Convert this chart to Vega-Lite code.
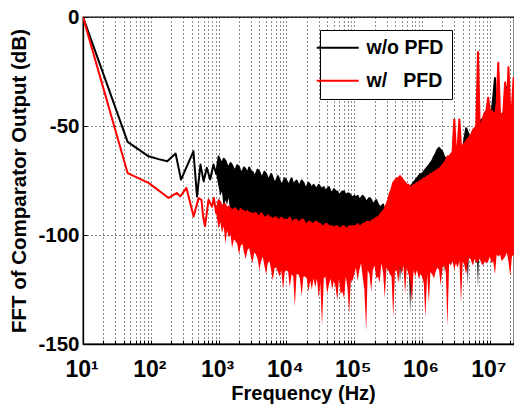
{
"$schema": "https://vega.github.io/schema/vega-lite/v6.json",
"width": 431, "height": 327,
"autosize": {"type": "none"},
"padding": {"left": 83, "top": 17, "right": 0, "bottom": 65},
"background": "white",
"datasets": {
"a": [
{"f":10,"h":0,"l":0},{"f":45.5,"h":-57.3,"l":-57.3},{"f":92.8,"h":-63.9,"l":-63.9},{"f":130,"h":-65.2,"l":-65.2},{"f":175,"h":-66.2,"l":-66.2},{"f":232,"h":-62.6,"l":-62.6},{"f":279,"h":-74.6,"l":-74.6},{"f":425,"h":-61.6,"l":-61.6},{"f":480,"h":-82.3,"l":-82.3},{"f":540,"h":-67.7,"l":-67.7},{"f":600,"h":-75.3,"l":-75.3},{"f":670,"h":-69.2,"l":-69.2},{"f":750,"h":-74.5,"l":-74.5},{"f":840,"h":-67.7,"l":-67.7},{"f":920,"h":-72,"l":-72},
{"f":1000,"h":-64,"l":-78},{"f":1060,"h":-66,"l":-82},{"f":1120,"h":-67,"l":-80},{"f":1190,"h":-65,"l":-88},{"f":1260,"h":-66,"l":-84},{"f":1330,"h":-68,"l":-86},{"f":1410,"h":-69,"l":-83},{"f":1500,"h":-67,"l":-92},{"f":1580,"h":-68,"l":-88},{"f":1680,"h":-70,"l":-90},{"f":1780,"h":-70,"l":-87},{"f":1880,"h":-68,"l":-95},{"f":2000,"h":-69,"l":-91},{"f":2110,"h":-71,"l":-93},{"f":2240,"h":-71,"l":-90},{"f":2370,"h":-69,"l":-97},{"f":2510,"h":-70,"l":-93},{"f":2660,"h":-72,"l":-95},{"f":2820,"h":-69,"l":-94},{"f":2990,"h":-71,"l":-99},{"f":3160,"h":-71,"l":-95},{"f":3350,"h":-73,"l":-97},{"f":3550,"h":-72,"l":-96},{"f":3760,"h":-70,"l":-100},{"f":3980,"h":-71,"l":-96},{"f":4220,"h":-73,"l":-98},{"f":4470,"h":-73,"l":-97},{"f":4730,"h":-71,"l":-101},{"f":5010,"h":-72,"l":-97},{"f":5310,"h":-74,"l":-99},{"f":5620,"h":-74,"l":-98},{"f":5960,"h":-72,"l":-102},{"f":6310,"h":-74,"l":-98},{"f":6680,"h":-76,"l":-100},{"f":7080,"h":-75,"l":-99},{"f":7500,"h":-73,"l":-103},{"f":7940,"h":-75,"l":-99},{"f":8410,"h":-77,"l":-101},{"f":8910,"h":-76,"l":-100},{"f":9440,"h":-74,"l":-101},
{"f":10000,"h":-75,"l":-100},{"f":10600,"h":-77,"l":-102},{"f":11200,"h":-76,"l":-101},{"f":11900,"h":-74,"l":-103},{"f":12600,"h":-77,"l":-99},{"f":13300,"h":-76,"l":-101},{"f":14100,"h":-75,"l":-100},{"f":15000,"h":-77,"l":-105},{"f":15800,"h":-77,"l":-101},{"f":16800,"h":-75,"l":-102},{"f":17800,"h":-76,"l":-100},{"f":18800,"h":-78,"l":-104},{"f":20000,"h":-78,"l":-99},{"f":21100,"h":-76,"l":-102},{"f":22400,"h":-77,"l":-101},{"f":23700,"h":-79,"l":-106},{"f":25100,"h":-77,"l":-102},{"f":26600,"h":-78,"l":-103},{"f":28200,"h":-79,"l":-101},{"f":29900,"h":-77,"l":-107},{"f":31600,"h":-78,"l":-103},{"f":33500,"h":-79,"l":-104},{"f":35500,"h":-78,"l":-102},{"f":37600,"h":-80,"l":-105},{"f":39800,"h":-79,"l":-103},{"f":42200,"h":-78,"l":-108},{"f":44700,"h":-80,"l":-104},{"f":47300,"h":-81,"l":-119},{"f":50100,"h":-79,"l":-105},{"f":53100,"h":-80,"l":-106},{"f":56200,"h":-80,"l":-104},{"f":59600,"h":-82,"l":-109},{"f":63100,"h":-81,"l":-105},{"f":66800,"h":-80,"l":-104},{"f":70800,"h":-80,"l":-106},{"f":75000,"h":-82,"l":-107},{"f":79400,"h":-81,"l":-105},{"f":84100,"h":-81,"l":-110},{"f":89100,"h":-82,"l":-106},{"f":94400,"h":-83,"l":-105},
{"f":100000,"h":-82,"l":-104},{"f":106000,"h":-83,"l":-105},{"f":112000,"h":-82,"l":-103},{"f":119000,"h":-84,"l":-107},{"f":126000,"h":-83,"l":-104},{"f":133000,"h":-82,"l":-102},{"f":141000,"h":-83,"l":-106},{"f":150000,"h":-85,"l":-108},{"f":158000,"h":-84,"l":-104},{"f":168000,"h":-83,"l":-105},{"f":178000,"h":-84,"l":-103},{"f":188000,"h":-86,"l":-105},{"f":200000,"h":-85,"l":-107},{"f":211000,"h":-84,"l":-109},{"f":224000,"h":-86,"l":-105},{"f":237000,"h":-87,"l":-106},{"f":251000,"h":-87,"l":-104},{"f":266000,"h":-86,"l":-107},{"f":282000,"h":-89,"l":-105},{"f":299000,"h":-88,"l":-104},{"f":316000,"h":-88,"l":-106},{"f":335000,"h":-86,"l":-107},{"f":355000,"h":-85,"l":-110},{"f":376000,"h":-84,"l":-127},{"f":398000,"h":-83,"l":-109},{"f":422000,"h":-83,"l":-108},{"f":447000,"h":-82,"l":-106},{"f":473000,"h":-81,"l":-122},{"f":501000,"h":-81,"l":-107},{"f":531000,"h":-80,"l":-110},{"f":562000,"h":-80,"l":-106},{"f":596000,"h":-79,"l":-107},{"f":631000,"h":-79,"l":-108},{"f":668000,"h":-78,"l":-136},{"f":708000,"h":-77,"l":-107},{"f":750000,"h":-76,"l":-108},{"f":794000,"h":-75,"l":-105},{"f":841000,"h":-74,"l":-106},{"f":891000,"h":-73,"l":-105},{"f":944000,"h":-72,"l":-107},
{"f":1000000,"h":-72,"l":-104},{"f":1060000,"h":-71,"l":-103},{"f":1120000,"h":-70,"l":-101},{"f":1190000,"h":-69,"l":-104},{"f":1260000,"h":-68,"l":-106},{"f":1330000,"h":-67,"l":-103},{"f":1410000,"h":-66,"l":-102},{"f":1500000,"h":-64,"l":-104},{"f":1580000,"h":-63,"l":-105},{"f":1680000,"h":-61,"l":-102},{"f":1780000,"h":-60,"l":-100},{"f":1880000,"h":-61,"l":-103},{"f":2000000,"h":-62,"l":-103},{"f":2110000,"h":-64,"l":-118},{"f":2240000,"h":-65,"l":-101},{"f":2370000,"h":-66,"l":-99},{"f":2510000,"h":-67,"l":-104},{"f":2660000,"h":-66,"l":-102},{"f":2820000,"h":-66,"l":-101},{"f":2990000,"h":-65,"l":-100},{"f":3160000,"h":-64,"l":-98},{"f":3350000,"h":-64,"l":-101},{"f":3550000,"h":-63,"l":-103},{"f":3760000,"h":-62,"l":-100},{"f":3980000,"h":-61,"l":-100},{"f":4220000,"h":-56,"l":-101},{"f":4470000,"h":-51,"l":-99},{"f":4730000,"h":-53,"l":-123},{"f":5010000,"h":-56,"l":-99},{"f":5310000,"h":-55,"l":-100},{"f":5620000,"h":-54,"l":-102},{"f":5960000,"h":-54,"l":-100},{"f":6310000,"h":-53,"l":-101},{"f":6680000,"h":-52,"l":-124},{"f":7080000,"h":-51,"l":-98},{"f":7500000,"h":-47,"l":-100},{"f":7940000,"h":-49,"l":-101},{"f":8410000,"h":-50,"l":-99},{"f":8910000,"h":-48,"l":-100},{"f":9440000,"h":-47,"l":-97},
{"f":10000000,"h":-47,"l":-99},{"f":10600000,"h":-44,"l":-100},{"f":11200000,"h":-37,"l":-98},{"f":11900000,"h":-28,"l":-100},{"f":12600000,"h":-45,"l":-100},{"f":13300000,"h":-46,"l":-98},{"f":14100000,"h":-46,"l":-97},{"f":15000000,"h":-45,"l":-99},{"f":15800000,"h":-44,"l":-101},{"f":16800000,"h":-44,"l":-99},{"f":17800000,"h":-32,"l":-98},{"f":18800000,"h":-43,"l":-98},{"f":20000000,"h":-43,"l":-100},{"f":21100000,"h":-44,"l":-99},{"f":22400000,"h":-44,"l":-97},{"f":23700000,"h":-43,"l":-96},{"f":25100000,"h":-42,"l":-99},{"f":26600000,"h":-43,"l":-98},{"f":28200000,"h":-43,"l":-98},{"f":29900000,"h":-42,"l":-98}
],
"b": [
{"f":10,"h":0,"l":0},{"f":45.5,"h":-71.6,"l":-71.6},{"f":92.8,"h":-76.1,"l":-76.1},{"f":183,"h":-83,"l":-83},{"f":243,"h":-80.7,"l":-80.7},{"f":272,"h":-82.3,"l":-82.3},{"f":335,"h":-78.4,"l":-78.4},{"f":428,"h":-91.5,"l":-91.5},{"f":507,"h":-83,"l":-83},{"f":560,"h":-84,"l":-84},{"f":590,"h":-91.5,"l":-91.5},{"f":630,"h":-96,"l":-96},{"f":710,"h":-83.8,"l":-83.8},{"f":800,"h":-87,"l":-87},{"f":850,"h":-83,"l":-83},{"f":920,"h":-90,"l":-90},
{"f":1000,"h":-84,"l":-97},{"f":1060,"h":-85,"l":-94},{"f":1120,"h":-87,"l":-99},{"f":1190,"h":-86,"l":-96},{"f":1260,"h":-86,"l":-104},{"f":1330,"h":-88,"l":-98},{"f":1410,"h":-87,"l":-101},{"f":1500,"h":-88,"l":-100},{"f":1580,"h":-89,"l":-106},{"f":1680,"h":-88,"l":-102},{"f":1780,"h":-88,"l":-103},{"f":1880,"h":-89,"l":-104},{"f":2000,"h":-90,"l":-109},{"f":2110,"h":-88,"l":-105},{"f":2240,"h":-89,"l":-104},{"f":2370,"h":-89,"l":-108},{"f":2510,"h":-90,"l":-111},{"f":2660,"h":-89,"l":-107},{"f":2820,"h":-90,"l":-106},{"f":2990,"h":-90,"l":-110},{"f":3160,"h":-91,"l":-113},{"f":3350,"h":-90,"l":-108},{"f":3550,"h":-90,"l":-109},{"f":3760,"h":-91,"l":-111},{"f":3980,"h":-92,"l":-116},{"f":4220,"h":-90,"l":-112},{"f":4470,"h":-91,"l":-110},{"f":4730,"h":-92,"l":-114},{"f":5010,"h":-92,"l":-118},{"f":5310,"h":-91,"l":-113},{"f":5620,"h":-92,"l":-112},{"f":5960,"h":-92,"l":-116},{"f":6310,"h":-93,"l":-121},{"f":6680,"h":-92,"l":-115},{"f":7080,"h":-92,"l":-115},{"f":7500,"h":-93,"l":-117},{"f":7940,"h":-93,"l":-119},{"f":8410,"h":-92,"l":-116},{"f":8910,"h":-93,"l":-125},{"f":9440,"h":-93,"l":-117},
{"f":10000,"h":-93,"l":-116},{"f":10600,"h":-93,"l":-117},{"f":11200,"h":-92,"l":-124},{"f":11900,"h":-94,"l":-118},{"f":12600,"h":-94,"l":-119},{"f":13300,"h":-93,"l":-133},{"f":14100,"h":-93,"l":-118},{"f":15000,"h":-94,"l":-118},{"f":15800,"h":-94,"l":-120},{"f":16800,"h":-93,"l":-128},{"f":17800,"h":-93,"l":-119},{"f":18800,"h":-95,"l":-119},{"f":20000,"h":-95,"l":-120},{"f":21100,"h":-94,"l":-126},{"f":22400,"h":-94,"l":-121},{"f":23700,"h":-95,"l":-125},{"f":25100,"h":-95,"l":-120},{"f":26600,"h":-94,"l":-124},{"f":28200,"h":-94,"l":-120},{"f":29900,"h":-95,"l":-129},{"f":31600,"h":-95,"l":-122},{"f":33500,"h":-96,"l":-142},{"f":35500,"h":-96,"l":-120},{"f":37600,"h":-95,"l":-119},{"f":39800,"h":-95,"l":-127},{"f":42200,"h":-96,"l":-123},{"f":44700,"h":-96,"l":-120},{"f":47300,"h":-96,"l":-125},{"f":50100,"h":-97,"l":-121},{"f":53100,"h":-96,"l":-124},{"f":56200,"h":-96,"l":-130},{"f":59600,"h":-97,"l":-120},{"f":63100,"h":-97,"l":-127},{"f":66800,"h":-96,"l":-126},{"f":70800,"h":-96,"l":-129},{"f":75000,"h":-97,"l":-119},{"f":79400,"h":-97,"l":-124},{"f":84100,"h":-96,"l":-136},{"f":89100,"h":-96,"l":-121},{"f":94400,"h":-96,"l":-121},
{"f":100000,"h":-96,"l":-118},{"f":106000,"h":-96,"l":-115},{"f":112000,"h":-95,"l":-121},{"f":119000,"h":-96,"l":-116},{"f":126000,"h":-96,"l":-113},{"f":133000,"h":-95,"l":-119},{"f":141000,"h":-95,"l":-125},{"f":150000,"h":-94,"l":-144},{"f":158000,"h":-94,"l":-116},{"f":168000,"h":-94,"l":-118},{"f":178000,"h":-94,"l":-126},{"f":188000,"h":-93,"l":-116},{"f":200000,"h":-93,"l":-114},{"f":211000,"h":-92,"l":-120},{"f":224000,"h":-92,"l":-119},{"f":237000,"h":-91,"l":-122},{"f":251000,"h":-90,"l":-113},{"f":266000,"h":-89,"l":-117},{"f":282000,"h":-88,"l":-129},{"f":299000,"h":-86,"l":-115},{"f":316000,"h":-84,"l":-116},{"f":335000,"h":-81,"l":-118},{"f":355000,"h":-79,"l":-119},{"f":376000,"h":-76,"l":-138},{"f":398000,"h":-75,"l":-117},{"f":422000,"h":-74,"l":-116},{"f":447000,"h":-74,"l":-122},{"f":473000,"h":-73,"l":-114},{"f":501000,"h":-74,"l":-118},{"f":531000,"h":-75,"l":-114},{"f":562000,"h":-76,"l":-127},{"f":596000,"h":-77,"l":-115},{"f":631000,"h":-77,"l":-118},{"f":668000,"h":-78,"l":-121},{"f":708000,"h":-78,"l":-131},{"f":750000,"h":-77,"l":-116},{"f":794000,"h":-77,"l":-119},{"f":841000,"h":-76,"l":-116},{"f":891000,"h":-76,"l":-120},{"f":944000,"h":-75,"l":-118},
{"f":1000000,"h":-75,"l":-119},{"f":1060000,"h":-74,"l":-122},{"f":1120000,"h":-74,"l":-138},{"f":1190000,"h":-73,"l":-118},{"f":1260000,"h":-73,"l":-131},{"f":1330000,"h":-72,"l":-117},{"f":1410000,"h":-72,"l":-118},{"f":1500000,"h":-71,"l":-120},{"f":1580000,"h":-71,"l":-117},{"f":1680000,"h":-70,"l":-115},{"f":1780000,"h":-70,"l":-116},{"f":1880000,"h":-69,"l":-123},{"f":2000000,"h":-68,"l":-115},{"f":2110000,"h":-67,"l":-114},{"f":2240000,"h":-66,"l":-117},{"f":2370000,"h":-64,"l":-142},{"f":2510000,"h":-64,"l":-113},{"f":2660000,"h":-63,"l":-114},{"f":2820000,"h":-62,"l":-112},{"f":2990000,"h":-47,"l":-116},{"f":3160000,"h":-61,"l":-113},{"f":3350000,"h":-60,"l":-115},{"f":3550000,"h":-47,"l":-112},{"f":3760000,"h":-60,"l":-131},{"f":3980000,"h":-59,"l":-112},{"f":4220000,"h":-58,"l":-114},{"f":4470000,"h":-57,"l":-118},{"f":4730000,"h":-56,"l":-113},{"f":5010000,"h":-55,"l":-110},{"f":5310000,"h":-54,"l":-112},{"f":5620000,"h":-52,"l":-114},{"f":5960000,"h":-51,"l":-111},{"f":6310000,"h":-50,"l":-113},{"f":6680000,"h":-16,"l":-112},{"f":7080000,"h":-50,"l":-111},{"f":7500000,"h":-50,"l":-113},{"f":7940000,"h":-46,"l":-114},{"f":8410000,"h":-44,"l":-112},{"f":8910000,"h":-43,"l":-113},{"f":9440000,"h":-37,"l":-112},
{"f":10000000,"h":-43,"l":-110},{"f":10600000,"h":-43,"l":-113},{"f":11200000,"h":-44,"l":-112},{"f":11900000,"h":-45,"l":-118},{"f":12600000,"h":-40,"l":-109},{"f":13300000,"h":-21,"l":-110},{"f":14100000,"h":-44,"l":-109},{"f":15000000,"h":-45,"l":-112},{"f":15800000,"h":-44,"l":-111},{"f":16800000,"h":-30,"l":-110},{"f":17800000,"h":-43,"l":-108},{"f":18800000,"h":-23,"l":-112},{"f":20000000,"h":-44,"l":-119},{"f":21100000,"h":-42,"l":-110},{"f":22400000,"h":-28,"l":-109},{"f":23700000,"h":-43,"l":-110},{"f":25100000,"h":-42,"l":-108},{"f":26600000,"h":-43,"l":-109},{"f":28200000,"h":-43,"l":-108},{"f":29900000,"h":-42,"l":-109}
]
},
"encoding": {
"x": {"field": "f", "type": "quantitative",
 "scale": {"type": "log", "domain": [10, 22700000], "nice": false},
 "axis": {"title": "Frequency (Hz)",
  "values": [10,20,30,40,50,60,70,80,90,100,200,300,400,500,600,700,800,900,1000,2000,3000,4000,5000,6000,7000,8000,9000,10000,20000,30000,40000,50000,60000,70000,80000,90000,100000,200000,300000,400000,500000,600000,700000,800000,900000,1000000,2000000,3000000,4000000,5000000,6000000,7000000,8000000,9000000,10000000,20000000],
  "labelExpr": "datum.value == 10 ? '10\u00b9' : datum.value == 100 ? '10\u00b2' : datum.value == 1000 ? '10\u00b3' : datum.value == 10000 ? '10\u2074' : datum.value == 100000 ? '10\u2075' : datum.value == 1000000 ? '10\u2076' : datum.value == 10000000 ? '10\u2077' : ''",
  "labelFont": "Liberation Sans", "labelFontSize": 23, "labelFontWeight": "bold", "labelColor": "black",
  "labelPadding": 18, "labelOffset": -1.5, "labelFlush": false, "labelOverlap": false, "labelBound": false,
  "ticks": true, "tickSize": -4, "tickColor": "black", "tickWidth": 1,
  "grid": true, "gridDash": [1, 3], "gridColor": "black", "gridWidth": 1, "gridOpacity": 0.9,
  "domainColor": "black", "domainWidth": 1.3,
  "titleFont": "Liberation Sans", "titleFontSize": 20, "titleFontWeight": "bold", "titleColor": "black",
  "titlePadding": 2, "titleX": 220, "titleAlign": "center"}},
"y": {"field": "h", "type": "quantitative",
 "scale": {"domain": [-150, 0], "nice": false, "zero": false},
 "axis": {"title": "FFT of Comparator Output (dB)",
  "values": [-150, -100, -50, 0],
  "labelExpr": "'' + datum.value",
  "labelFont": "Liberation Sans", "labelFontSize": 20.5, "labelFontWeight": "bold", "labelColor": "black",
  "labelPadding": 8, "labelFlush": false, "labelOverlap": false,
  "ticks": true, "tickSize": -4, "tickColor": "black",
  "grid": true, "gridDash": [1, 3], "gridColor": "black", "gridWidth": 1, "gridOpacity": 0.9,
  "domainColor": "black", "domainWidth": 1.3,
  "titleFont": "Liberation Sans", "titleFontSize": 20.5, "titleFontWeight": "bold", "titleColor": "black",
  "titlePadding": 8}}
},
"layer": [
{"data": {"name": "a"},
 "mark": {"type": "area", "color": "#000000", "clip": true},
 "encoding": {"y2": {"field": "l"}}},
{"data": {"name": "a"},
 "mark": {"type": "line", "strokeWidth": 2, "strokeJoin": "round", "clip": true},
 "encoding": {"color": {"datum": "w/o PFD",
   "scale": {"domain": ["w/o PFD", "w/\u00a0\u00a0\u00a0PFD"], "range": ["#000000", "#ff0000"]},
   "legend": {"orient": "none", "legendX": 237, "legendY": 13, "title": null,
     "strokeColor": "black", "fillColor": "white", "padding": 8, "cornerRadius": 0,
     "symbolType": "M-4.2,0H4.2", "symbolSize": 100, "symbolStrokeWidth": 2,
     "labelFont": "Liberation Sans", "labelFontSize": 19.5, "labelFontWeight": "bold", "labelColor": "black",
     "labelOffset": 19, "rowPadding": 12}}}},
{"data": {"name": "b"},
 "mark": {"type": "area", "color": "#ff0000", "clip": true},
 "encoding": {"y2": {"field": "l"}}},
{"data": {"name": "b"},
 "mark": {"type": "line", "strokeWidth": 2, "strokeJoin": "round", "clip": true},
 "encoding": {"color": {"datum": "w/\u00a0\u00a0\u00a0PFD"}}}
],
"config": {"view": {"stroke": "black", "strokeWidth": 1.3}, "font": "Liberation Sans"}
}
